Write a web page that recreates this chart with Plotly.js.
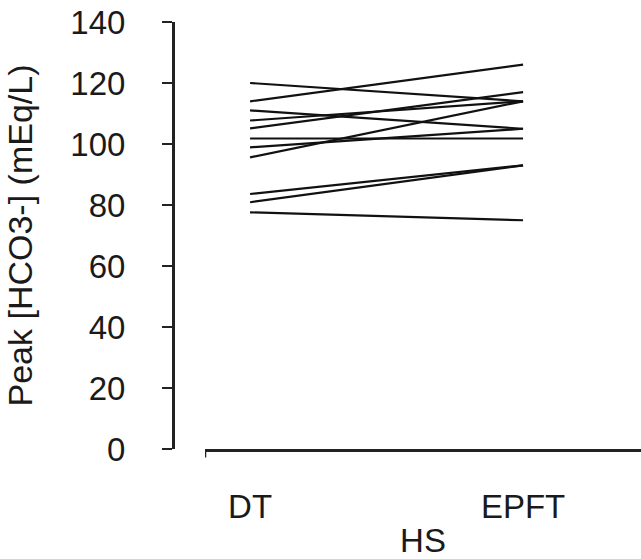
<!DOCTYPE html>
<html>
<head>
<meta charset="utf-8">
<script src="https://cdn.plot.ly/plotly-3.0.1.min.js"></script>
<style>html,body{margin:0;padding:0;background:#fff;}#chart{width:641px;height:559px;}</style>
</head>
<body>
<div id="chart"></div>
<script>
// Data
const categories = ["DT", "EPFT"];
const dtValues   = [120, 114, 111, 107.7, 105.1, 101.8, 98.9, 95.6, 83.6, 80.9, 77.6];
const epftValues = [114, 126, 105, 114, 117, 101.8, 105, 114, 93, 93, 75];
const yTicks = [0, 20, 40, 60, 80, 100, 120, 140];

const traces = dtValues.map((v, i) => ({
  type: 'scatter',
  mode: 'lines',
  x: [0, 1],
  y: [v, epftValues[i]],
  line: {color: '#111', width: 2.2},
  showlegend: false,
  hoverinfo: 'skip'
}));

const font = {family: 'Liberation Sans, Arial, sans-serif', size: 33, color: '#1a1a1a'};
const titleFont = {family: 'Liberation Sans, Arial, sans-serif', size: 34, color: '#1a1a1a'};
const xStart = -0.165, xEnd = 1.432;

const layout = {
  width: 641, height: 559,
  margin: {l: 173, r: 0, t: 22, b: 110},
  paper_bgcolor: '#fff', plot_bgcolor: '#fff',
  font: font,
  showlegend: false,
  xaxis: {
    domain: [0.0684, 1],
    anchor: 'y',
    range: [xStart, xEnd],
    tickvals: [0, 1],
    ticktext: categories,
    ticks: '',
    ticklabelstandoff: 27,
    showgrid: false, zeroline: false,
    showline: true, linecolor: '#222', linewidth: 2.5,
    tickfont: font,
    title: {text: 'HS', font: font, standoff: 34}
  },
  yaxis: {
    anchor: 'free', position: 0,
    range: [0, 140],
    tickvals: yTicks,
    ticks: 'outside', ticklen: 10, tickwidth: 2.5, tickcolor: '#222',
    ticklabelstandoff: 30,
    showgrid: false, zeroline: false,
    showline: true, linecolor: '#222', linewidth: 2.5,
    tickfont: font,
    title: {text: 'Peak [HCO3-] (mEq/L)', font: titleFont, standoff: 26}
  },
  shapes: [{
    type: 'line', xref: 'x', yref: 'paper',
    x0: xStart, x1: xStart, y0: 0, y1: -0.02,
    line: {color: '#222', width: 2.5}
  }]
};

Plotly.newPlot('chart', traces, layout, {displayModeBar: false, staticPlot: true});
</script>
</body>
</html>
